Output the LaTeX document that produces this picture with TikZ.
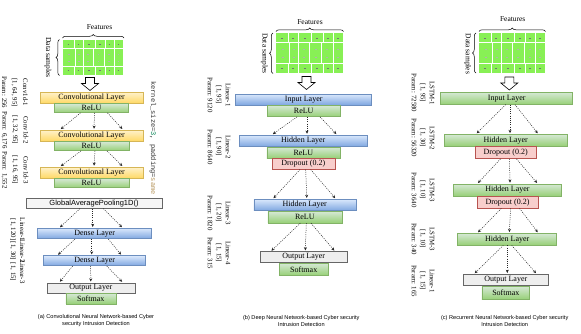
\documentclass[tikz,border=0pt]{standalone}
\usepackage{fontspec}
\setmainfont{Liberation Serif}
\setsansfont{Liberation Sans}
\setmonofont{Liberation Mono}
\usetikzlibrary{arrows.meta,decorations.pathreplacing,calc}
\definecolor{ylwT}{HTML}{FFF2CC}
\definecolor{ylwB}{HTML}{FFD966}
\definecolor{ylwD}{HTML}{D6B656}
\definecolor{grnT}{HTML}{D5E8D4}
\definecolor{grnB}{HTML}{97D077}
\definecolor{grnD}{HTML}{82B366}
\definecolor{bluT}{HTML}{DAE8FC}
\definecolor{bluB}{HTML}{7EA6E0}
\definecolor{bluD}{HTML}{6C8EBF}
\definecolor{gryF}{HTML}{EEEEEE}
\definecolor{gapF}{HTML}{F5F5F5}
\definecolor{gryD}{HTML}{666666}
\definecolor{pnkF}{HTML}{F8CECC}
\definecolor{pnkD}{HTML}{B85450}
\definecolor{matG}{HTML}{88F055}
\definecolor{numC}{HTML}{098658}
\definecolor{strC}{HTML}{B89860}
\tikzset{
  box/.style={draw, line width=0.6pt, inner sep=0pt, font=\fontsize{8}{9}\selectfont},
  ylw/.style={box, top color=ylwT, bottom color=ylwB, draw=ylwD},
  grn/.style={box, top color=grnT, bottom color=grnB, draw=grnD},
  blu/.style={box, top color=bluT, bottom color=bluB, draw=bluD},
  gry/.style={box, fill=gryF, draw=gryD},
  pnk/.style={box, fill=pnkF, draw=pnkD},
  arr/.style={draw=black!85, line width=0.5pt, dash pattern=on 1pt off 1.2pt, shorten >=1pt, -{Stealth[length=3.2pt,width=3pt]}},
  side/.style={rotate=-90, align=center, font=\fontsize{6.8}{9}\selectfont, inner sep=0pt},
  sidew/.style={side, font=\fontsize{6.8}{10.5}\selectfont},
  captxt/.style={align=center, font=\sffamily\fontsize{5.6}{7.4}\selectfont, inner sep=0pt},
  lbl/.style={font=\fontsize{7.5}{8}\selectfont, inner sep=0pt},
  brc/.style={decorate, decoration={brace, amplitude=3.5pt}, line width=0.5pt},
  mk/.style={black!55, line width=0.9pt},
  mk2/.style={black!30, line width=0.6pt},
}
\newcommand{\datamat}[4]{%
\begin{scope}[shift={(#1,#2)}, xscale=#3/60, yscale=#4/40]
  \fill[matG] (0,0) rectangle (60,40);
  \draw[white, line width=1pt] (0,9.5) -- (60,9.5) (0,30.5) -- (60,30.5);
  \draw[white, line width=0.8pt] (11,0)--(11,9.5) (20,0)--(20,9.5) (32,0)--(32,9.5) (42,0)--(42,9.5) (51,0)--(51,9.5);
  \draw[white, line width=0.8pt] (11,30.5)--(11,40) (20,30.5)--(20,40) (32,30.5)--(32,40) (42,30.5)--(42,40) (51,30.5)--(51,40);
  \draw[white, line width=0.8pt] (12,9.5)--(12,30.5) (20,9.5)--(20,30.5) (30,9.5)--(30,30.5) (41,9.5)--(41,30.5) (51,9.5)--(51,30.5);
  \foreach \cx in {5.5,15.5,26,37,46.5,55.5} {
    \draw[mk] (\cx-0.9,4.75) -- (\cx+0.9,4.75);
    \draw[mk] (\cx-0.9,35.25) -- (\cx+0.9,35.25);}
  \foreach \cx in {6,16,25,35.5,46,55.5} {
    \draw[mk2] (\cx-0.8,16) -- (\cx+0.8,16);
    \draw[mk2] (\cx-0.8,24) -- (\cx+0.8,24);}
\end{scope}}
\newcommand{\hollowarr}[2]{%
  \draw[line width=0.6pt, fill=white] (#1-4.5,#2) -- (#1+4.5,#2) -- (#1+4.5,#2+6) -- (#1+8.5,#2+6) -- (#1,#2+13) -- (#1-8.5,#2+6) -- (#1-4.5,#2+6) -- cycle;}
\begin{document}
\begin{tikzpicture}[x=1pt,y=-1pt]
\useasboundingbox (0,0) rectangle (581,333);
\fill[white] (0,0) rectangle (581,333);

% ================= Panel (a) =================
\datamat{63}{40}{60}{35}
\draw[brc] (62.5,38) -- (124,38);
\node[lbl] (fa) at (99.5,27) {Features};
\draw[brc] (59.5,75.5) -- (59.5,39.5);
\node[lbl, rotate=-90] (dsa) at (48,57.5) {Data samples};
\hollowarr{90}{77.5}

\node[ylw, minimum width=103pt, minimum height=11pt] (ac1) at (91.5,97.5) {Convolutional Layer};
\node[grn, minimum width=74pt, minimum height=9pt, anchor=north] (ar1) at (ac1.south) {ReLU};
\node[ylw, minimum width=103pt, minimum height=11pt] (ac2) at (91.5,135.5) {Convolutional Layer};
\node[grn, minimum width=75pt, minimum height=9pt, anchor=north] (ar2) at (ac2.south) {ReLU};
\node[ylw, minimum width=103pt, minimum height=11pt] (ac3) at (91.5,172.5) {Convolutional Layer};
\node[grn, minimum width=75pt, minimum height=9pt, anchor=north] (ar3) at (ac3.south) {ReLU};
\node[box, fill=gapF, draw=gryD, minimum width=136pt, minimum height=10pt, font=\sffamily\fontsize{7.5}{8}\selectfont] (agap) at (94,203.3) {GlobalAveragePooling1D()};
\node[blu, minimum width=114pt, minimum height=10.5pt] (ad1) at (94.7,233.5) {Dense Layer};
\node[blu, minimum width=102pt, minimum height=10pt] (ad2) at (94.7,260.7) {Dense Layer};
\node[gry, minimum width=88pt, minimum height=10pt] (aout) at (90.8,287.8) {Output Layer};
\node[grn, minimum width=50pt, minimum height=10.5pt, anchor=north] (asm) at (aout.south) {Softmax};

\draw[arr] ([xshift=-11pt]ar1.south) -- ([xshift=-31.5pt]ac2.north);
\draw[arr] ([xshift=3pt]ar1.south) -- ([xshift=2.5pt]ac2.north);
\draw[arr] ([xshift=16pt]ar1.south) -- ([xshift=31.5pt]ac2.north);
\draw[arr] ([xshift=-10.5pt]ar2.south) -- ([xshift=-31.5pt]ac3.north);
\draw[arr] ([xshift=3.5pt]ar2.south) -- ([xshift=2.5pt]ac3.north);
\draw[arr] ([xshift=15.5pt]ar2.south) -- ([xshift=31.5pt]ac3.north);
\draw[arr] ([xshift=-14pt]agap.south) -- ([xshift=-35.4pt]ad1.north);
\draw[arr] ([xshift=-1.3pt]agap.south) -- ([xshift=-2pt]ad1.north);
\draw[arr] ([xshift=9.3pt]agap.south) -- ([xshift=28pt]ad1.north);
\draw[arr] ([xshift=-19.7pt]ad1.south) -- ([xshift=-37.4pt]ad2.north);
\draw[arr] ([xshift=-3pt]ad1.south) -- ([xshift=-3pt]ad2.north);
\draw[arr] ([xshift=13.6pt]ad1.south) -- ([xshift=27pt]ad2.north);
\draw[arr] ([xshift=-22pt]ad2.south) -- ([xshift=-31.5pt]aout.north);
\draw[arr] ([xshift=-4pt]ad2.south) -- ([xshift=0pt]aout.north);
\draw[arr] ([xshift=12pt]ad2.south) -- ([xshift=32pt]aout.north);

\node[sidew] (aL1) at (15,92.5) {Conv1d-1\\{[1, 64, 95]}\\Param: 256};
\node[sidew] (aL2) at (15,130) {Conv1d-2\\{[1, 32, 95]}\\Param: 6,176};
\node[sidew] (aL3) at (15,170) {Conv1d-3\\{[1, 16, 95]}\\Param: 1,552};
\node[side] (aL4) at (17.3,229.5) {Linear-1\\{[1, 120]}};
\node[side] (aL5) at (17.3,251) {Linear-2\\{[1, 30]}};
\node[side] (aL6) at (17.3,272) {Linear-3\\{[1, 15]}};
\node[rotate=-90, inner sep=0pt, font=\ttfamily\fontsize{7}{8}\selectfont, text=black!80] (akern) at (153,138) {kernel\_size={\color{numC}3}, padding={\color{strC}same}};

\node[captxt] (capa) at (96,320.5) {(a) Convolutional Neural Network-based Cyber\\security Intrusion Detection};

% ================= Panel (b) =================
\datamat{276}{33.3}{67}{40}
\draw[brc] (276,31.5) -- (343.5,31.5);
\node[lbl] (fb) at (310,21.7) {Features};
\draw[brc] (273,73.5) -- (273,33);
\node[lbl, rotate=-90] (dsb) at (264.5,53.3) {Data samples};
\hollowarr{306.5}{76.5}

\node[blu, minimum width=136pt, minimum height=11pt] (bin) at (303.7,99.5) {Input Layer};
\node[grn, minimum width=73pt, minimum height=11pt, anchor=north] (br1) at (bin.south) {ReLU};
\node[blu, minimum width=128pt, minimum height=11.5pt] (bh1) at (303.3,140.8) {Hidden Layer};
\node[grn, minimum width=73pt, minimum height=11pt, anchor=north] (br2) at (bh1.south) {ReLU};
\node[pnk, minimum width=63pt, minimum height=10.5pt, anchor=north] (bdr) at (br2.south) {Dropout (0.2)};
\node[blu, minimum width=102pt, minimum height=11.5pt] (bh2) at (304.8,205) {Hidden Layer};
\node[grn, minimum width=74pt, minimum height=11.5pt, anchor=north] (br3) at (bh2.south) {ReLU};
\node[gry, minimum width=87pt, minimum height=11pt] (bout) at (303.7,257.2) {Output Layer};
\node[grn, minimum width=49pt, minimum height=12pt, anchor=north] (bsm) at (bout.south) {Softmax};

\draw[arr] ([xshift=-6.7pt]br1.south) -- ([xshift=-31.3pt]bh1.north);
\draw[arr] ([xshift=3.3pt]br1.south) -- ([xshift=3.7pt]bh1.north);
\draw[arr] ([xshift=16.3pt]br1.south) -- ([xshift=33.7pt]bh1.north);
\draw[arr] ([xshift=-3.3pt]bdr.south) -- ([xshift=-32pt]bh2.north);
\draw[arr] ([xshift=2.4pt]bdr.south) -- ([xshift=2pt]bh2.north);
\draw[arr] ([xshift=7.4pt]bdr.south) -- ([xshift=31pt]bh2.north);
\draw[arr] ([xshift=-4.5pt]br3.south) -- ([xshift=-33pt]bout.north);
\draw[arr] ([xshift=1.5pt]br3.south) -- ([xshift=1.6pt]bout.north);
\draw[arr] ([xshift=6.2pt]br3.south) -- ([xshift=31.3pt]bout.north);

\node[side] (bL1) at (219,95) {Linear-1\\{[1, 95]}\\Param: 9120};
\node[side] (bL2) at (219,147) {Linear-2\\{[1, 90]}\\Param: 8640};
\node[side] (bL3) at (219,213) {Linear-3\\{[1, 20]}\\Param: 1820};
\node[side] (bL4) at (219,253) {Linear-4\\{[1, 15]}\\Param: 315};

\node[captxt] (capb) at (301.3,321) {(b) Deep Neural Network-based Cyber security\\Intrusion Detection};

% ================= Panel (c) =================
\datamat{479.3}{33.3}{65.7}{39.4}
\draw[brc] (479,31.5) -- (545.5,31.5);
\node[lbl] (fc) at (512.7,19.5) {Features};
\draw[brc] (476,73) -- (476,33);
\node[lbl, rotate=-90] (dsc) at (467.7,54) {Data samples};
\hollowarr{509.3}{77}

\node[grn, minimum width=132pt, minimum height=12pt] (cin) at (506.7,98.3) {Input Layer};
\node[grn, minimum width=123pt, minimum height=11.7pt] (ch1) at (505.7,140.2) {Hidden Layer};
\node[pnk, minimum width=61pt, minimum height=12pt, anchor=north] (cd1) at (ch1.south) {Dropout (0.2)};
\node[grn, minimum width=108pt, minimum height=12pt] (ch2) at (507.5,190) {Hidden Layer};
\node[pnk, minimum width=61pt, minimum height=11.5pt, anchor=north] (cd2) at (ch2.south) {Dropout (0.2)};
\node[grn, minimum width=99pt, minimum height=11.7pt] (ch3) at (507.2,239.2) {Hidden Layer};
\node[gry, minimum width=85pt, minimum height=11.5pt] (cout) at (505.8,280) {Output Layer};
\node[grn, minimum width=47.7pt, minimum height=13pt, anchor=north] (csm) at (cout.south) {Softmax};

\draw[arr] ([xshift=-1pt]cin.south) -- ([xshift=-29.7pt]ch1.north);
\draw[arr] ([xshift=3.3pt]cin.south) -- ([xshift=4.3pt]ch1.north);
\draw[arr] ([xshift=8.3pt]cin.south) -- ([xshift=32.6pt]ch1.north);
\draw[arr] ([xshift=-5.2pt]cd1.south) -- ([xshift=-30.2pt]ch2.north);
\draw[arr] ([xshift=3.8pt]cd1.south) -- ([xshift=2.5pt]ch2.north);
\draw[arr] ([xshift=10.8pt]cd1.south) -- ([xshift=30.2pt]ch2.north);
\draw[arr] ([xshift=-6.2pt]cd2.south) -- ([xshift=-29.9pt]ch3.north);
\draw[arr] ([xshift=3.1pt]cd2.south) -- ([xshift=2.1pt]ch3.north);
\draw[arr] ([xshift=12.1pt]cd2.south) -- ([xshift=31.1pt]ch3.north);
\draw[arr] ([xshift=-3.9pt]ch3.south) -- ([xshift=-31.8pt]cout.north);
\draw[arr] ([xshift=0.1pt]ch3.south) -- ([xshift=1.5pt]cout.north);
\draw[arr] ([xshift=4.5pt]ch3.south) -- ([xshift=30.9pt]cout.north);

\node[side] (cL1) at (423,93) {LSTM-1\\{[1, 95]}\\Param: 72580};
\node[side] (cL2) at (423,138) {LSTM-2\\{[1, 30]}\\Param: 56320};
\node[side] (cL3) at (423,190) {LSTM-3\\{[1, 10]}\\Param: 3640};
\node[side] (cL4) at (423,239) {LSTM-3\\{[1, 10]}\\Param: 340};
\node[side] (cL5) at (423,281) {Linear-1\\{[1, 15]}\\Param: 165};

\node[captxt] (capc) at (504.7,321) {(c) Recurrent Neural Network-based Cyber security\\Intrusion Detection};
\end{tikzpicture}
\end{document}
